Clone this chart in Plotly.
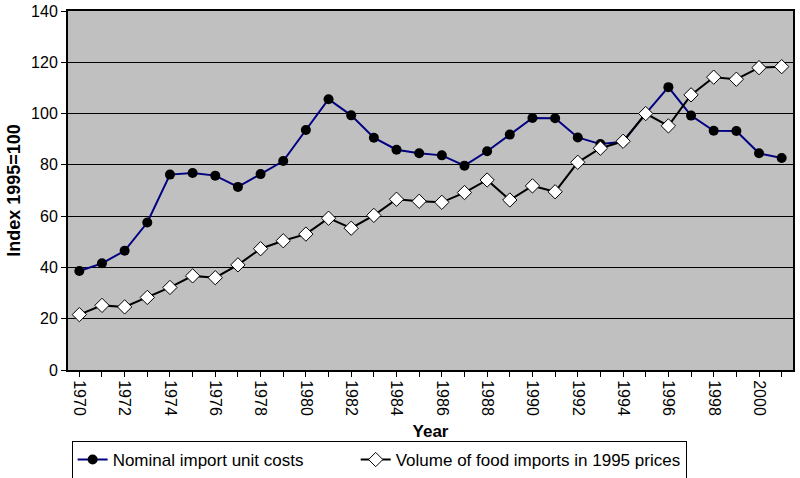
import plotly.graph_objects as go

years = list(range(1970, 2002))
nominal_costs = [38.6, 41.6, 46.5, 57.5, 76.2, 76.8, 75.8, 71.4, 76.4, 81.5,
                 93.6, 105.6, 99.3, 90.6, 85.9, 84.5, 83.7, 79.7, 85.3, 91.8,
                 98.3, 98.2, 90.7, 88.1, 89.0, 100.0, 110.3, 99.2, 93.3, 93.2,
                 84.5, 82.7]
volume_1995 = [21.6, 25.2, 24.6, 28.3, 32.2, 36.7, 36.0, 41.0, 47.3, 50.4,
               53.0, 59.2, 55.3, 60.3, 66.6, 65.8, 65.4, 69.2, 74.1, 66.3,
               71.8, 69.5, 81.0, 86.5, 89.2, 100.0, 95.2, 107.3, 114.2, 113.4,
               117.9, 118.3]
y_ticks = [0, 20, 40, 60, 80, 100, 120, 140]
series_names = ["Nominal import unit costs", "Volume of food imports in 1995 prices"]

font = "Liberation Sans, Arial, sans-serif"
pad = "\u00a0" * 10

fig = go.Figure()
fig.add_trace(go.Scatter(
    x=years, y=nominal_costs, mode="lines+markers",
    name=series_names[0] + pad,
    line=dict(color="#000080", width=2),
    marker=dict(symbol="circle", size=10, color="black", line=dict(color="black", width=0)),
))
fig.add_trace(go.Scatter(
    x=years, y=volume_1995, mode="lines+markers",
    name=series_names[1],
    line=dict(color="black", width=2),
    marker=dict(symbol="diamond", size=11, color="white", line=dict(color="black", width=1)),
))

fig.update_layout(
    width=800, height=478,
    margin=dict(l=68, r=7, t=11, b=108, autoexpand=False),
    paper_bgcolor="white",
    plot_bgcolor="#c0c0c0",
    font=dict(family=font, color="black", size=13),
    showlegend=True,
    legend=dict(
        orientation="h", x=0.005, y=-0.1978, xanchor="left", yanchor="top",
        bordercolor="black", borderwidth=1, bgcolor="white",
        font=dict(family=font, size=17), itemwidth=30,
        tracegroupgap=0,
    ),
    xaxis=dict(
        range=[1969.5, 2001.5], tickmode="linear", tick0=1970, dtick=2,
        tickangle=90, ticks="outside", ticklen=5, tickcolor="black",
        showgrid=False, zeroline=False, automargin=False,
        showline=True, linecolor="black", linewidth=2, mirror=True,
        tickfont=dict(family=font, size=16),
        minor=dict(dtick=1, tick0=1970, ticks="outside", ticklen=5, tickcolor="black", showgrid=False),
        title=dict(text="<b>Year</b>", font=dict(family=font, size=17), standoff=10),
    ),
    yaxis=dict(
        range=[0, 140], tickvals=y_ticks, ticks="outside", ticklen=5, tickcolor="black",
        showgrid=True, gridcolor="black", gridwidth=1, zeroline=False, automargin=False,
        showline=True, linecolor="black", linewidth=2, mirror=True,
        tickfont=dict(family=font, size=16),
        title=dict(text="<b>Index 1995=100</b>", font=dict(family=font, size=18), standoff=6),
    ),
)

fig.write_html("out.html", config={"displayModeBar": False},
               post_script="document.body.style.margin='0';")
